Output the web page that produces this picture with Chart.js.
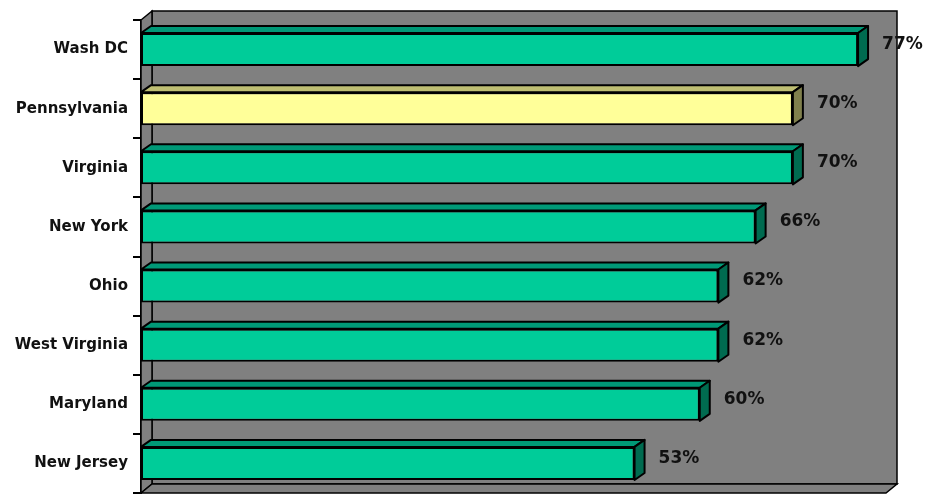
<!DOCTYPE html>
<html>
<head>
<meta charset="utf-8">
<script src="https://cdn.jsdelivr.net/npm/chart.js@4/dist/chart.umd.min.js"></script>
<style>
  html, body { margin: 0; padding: 0; background: #fff; }
  #wrap { width: 931px; height: 494px; }
</style>
</head>
<body>
<div id="wrap"><canvas id="chart" width="931" height="494"></canvas></div>
<script>
const states = ['Wash DC', 'Pennsylvania', 'Virginia', 'New York', 'Ohio', 'West Virginia', 'Maryland', 'New Jersey'];
const percents = [77, 70, 70, 66, 62, 62, 60, 53];
const highlight = 'Pennsylvania';

const front = states.map(s => s === highlight ? '#FFFF99' : '#00CC99');
const topFace = states.map(s => s === highlight ? '#BFBF73' : '#009977');
const sideFace = states.map(s => s === highlight ? '#80804D' : '#006B50');

// depth of the 3D walls and bars
const WALL_DX = 11, WALL_DY = 9;
const BAR_DX = 10, BAR_DY = 7;

const box3d = {
    id: 'box3d',
    beforeDatasetsDraw(chart) {
        const { ctx, chartArea: a } = chart;
        ctx.save();
        ctx.fillStyle = '#808080';
        ctx.strokeStyle = '#000';
        ctx.lineWidth = 1.5;
        // back wall
        ctx.fillRect(a.left + WALL_DX, a.top - WALL_DY, a.right - a.left, a.bottom - a.top);
        ctx.strokeRect(a.left + WALL_DX, a.top - WALL_DY, a.right - a.left, a.bottom - a.top);
        // left wall
        ctx.beginPath();
        ctx.moveTo(a.left, a.top);
        ctx.lineTo(a.left + WALL_DX, a.top - WALL_DY);
        ctx.lineTo(a.left + WALL_DX, a.bottom - WALL_DY);
        ctx.lineTo(a.left, a.bottom);
        ctx.closePath();
        ctx.fill();
        ctx.stroke();
        // floor
        ctx.beginPath();
        ctx.moveTo(a.left, a.bottom);
        ctx.lineTo(a.left + WALL_DX, a.bottom - WALL_DY);
        ctx.lineTo(a.right + WALL_DX, a.bottom - WALL_DY);
        ctx.lineTo(a.right, a.bottom);
        ctx.closePath();
        ctx.fill();
        ctx.stroke();
        ctx.restore();
    },
    afterDatasetsDraw(chart) {
        const { ctx } = chart;
        const meta = chart.getDatasetMeta(0);
        ctx.save();
        ctx.strokeStyle = '#000';
        ctx.lineWidth = 2;
        ctx.lineJoin = 'round';
        meta.data.forEach((bar, i) => {
            const p = bar.getProps(['x', 'y', 'base', 'height'], true);
            const x0 = p.base, x1 = p.x;
            const t = p.y - p.height / 2, b = p.y + p.height / 2;
            // top face
            ctx.fillStyle = topFace[i];
            ctx.beginPath();
            ctx.moveTo(x0, t);
            ctx.lineTo(x0 + BAR_DX, t - BAR_DY);
            ctx.lineTo(x1 + BAR_DX, t - BAR_DY);
            ctx.lineTo(x1, t);
            ctx.closePath();
            ctx.fill();
            ctx.stroke();
            // end face
            ctx.fillStyle = sideFace[i];
            ctx.beginPath();
            ctx.moveTo(x1, t);
            ctx.lineTo(x1 + BAR_DX, t - BAR_DY);
            ctx.lineTo(x1 + BAR_DX, b - BAR_DY);
            ctx.lineTo(x1, b);
            ctx.closePath();
            ctx.fill();
            ctx.stroke();
            // value label
            ctx.fillStyle = '#111';
            ctx.font = 'bold 17px "DejaVu Sans", Verdana, sans-serif';
            ctx.textAlign = 'left';
            ctx.textBaseline = 'middle';
            ctx.fillText(percents[i] + '%', x1 + 24, p.y - 5);
        });
        ctx.restore();
    }
};

new Chart(document.getElementById('chart'), {
    type: 'bar',
    data: {
        labels: states,
        datasets: [{
            data: percents,
            backgroundColor: front,
            borderColor: '#000',
            borderWidth: 2,
            borderSkipped: false,
            categoryPercentage: 1,
            barPercentage: 0.56
        }]
    },
    options: {
        indexAxis: 'y',
        responsive: false,
        animation: false,
        layout: { padding: { top: 20, bottom: 1, right: 45, left: 0 } },
        plugins: { legend: { display: false }, tooltip: { enabled: false } },
        scales: {
            x: { display: false, min: 0, max: 80 },
            y: {
                afterFit: s => { s.width = 141; s.paddingTop = 0; s.paddingBottom = 0; },
                border: { display: true, color: '#000', width: 2 },
                grid: { offset: true, drawOnChartArea: false, tickLength: 8, color: '#000', lineWidth: 2 },
                ticks: {
                    color: '#111',
                    padding: 5,
                    font: { family: '"DejaVu Sans", Verdana, sans-serif', size: 15, weight: 'bold' }
                }
            }
        }
    },
    plugins: [box3d]
});
</script>
</body>
</html>
